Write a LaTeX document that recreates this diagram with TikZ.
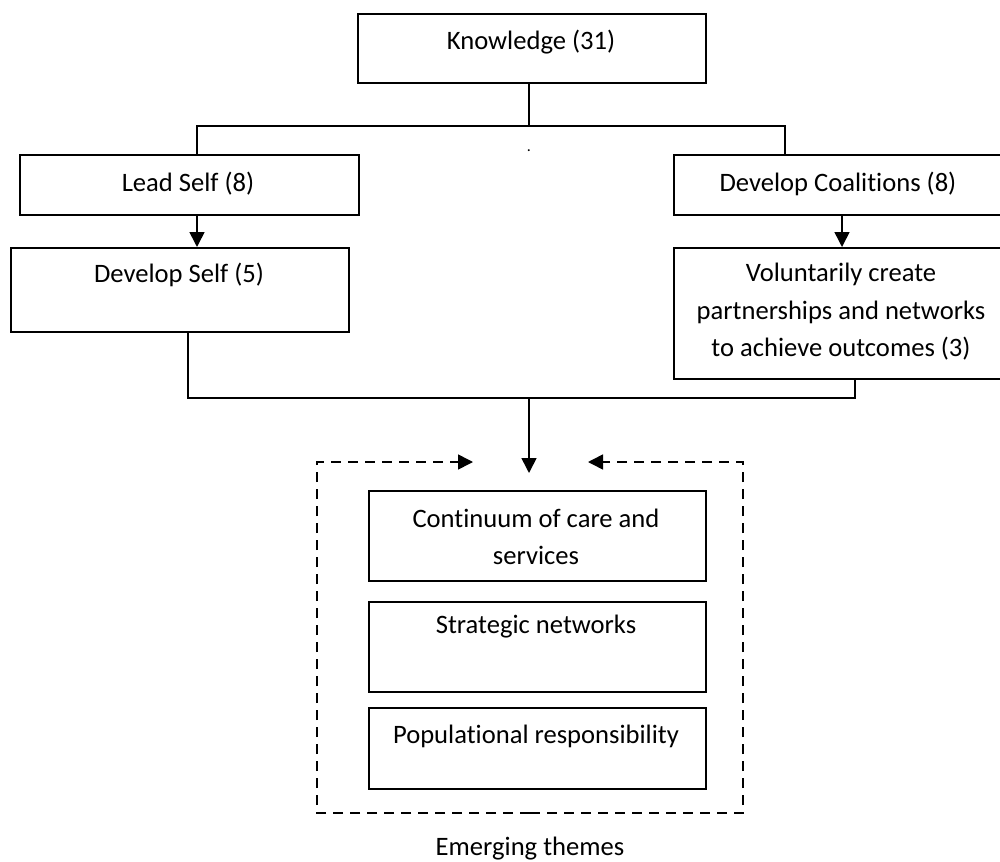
\documentclass[tikz,border=0pt]{standalone}
\usepackage{fontspec}
\setmainfont{Carlito}[Ligatures=NoCommon]
\usetikzlibrary{arrows.meta}
\begin{document}
\begin{tikzpicture}[x=1pt,y=-1pt,
  box/.style={draw, line width=1.6pt, inner sep=0pt, anchor=north west},
  lbl/.style={font=\fontsize{26.6}{37.5}\selectfont, align=center, inner sep=0pt},
  conn/.style={line width=1.6pt},
  arr/.style={line width=1.6pt, -{Triangle[length=15pt,width=15pt]}},
  darr/.style={line width=1.6pt, dash pattern=on 10pt off 7pt, -{Triangle[length=15pt,width=15pt]}}]
\useasboundingbox (0,0) rectangle (1000,861);

% boxes
\node[box, minimum width=348pt, minimum height=69pt] (k) at (357,13) {};
\node[box, minimum width=339pt, minimum height=60pt] (ls) at (19,154) {};
\node[box, minimum width=340pt, minimum height=60pt] (dc) at (673,154) {};
\node[box, minimum width=338pt, minimum height=84pt] (ds) at (10,247) {};
\node[box, minimum width=340pt, minimum height=131pt] (vc) at (673,247) {};
\node[box, minimum width=337pt, minimum height=90pt] (c1) at (368,490) {};
\node[box, minimum width=337pt, minimum height=90pt] (c2) at (368,601) {};
\node[box, minimum width=337pt, minimum height=81pt] (c3) at (368,707) {};

% texts
\node[lbl] (kt) at (531,42) {Knowledge (31)};
\node[lbl] (lst) at (188,184) {Lead Self (8)};
\node[lbl] (dct) at (838,184) {Develop Coalitions (8)};
\node[lbl] (dst) at (179,275) {Develop Self (5)};
\node[lbl] (vct) at (841,312) {Voluntarily create\\partnerships and networks\\to achieve outcomes (3)};
\node[lbl] (c1t) at (536,537) {Continuum of care and\\services};
\node[lbl] (c2t) at (536,627) {Strategic networks};
\node[lbl] (c3t) at (536,736) {Populational responsibility};
\node[lbl] (et) at (530,849) {Emerging themes};
\node[font=\fontsize{16}{18}\selectfont, inner sep=0pt] (dot) at (529,151) {.};

% connector coordinates
\coordinate (tl) at (197,126);
\coordinate (tr) at (785,126);
\coordinate (am) at (529,126);
\coordinate (ar) at (842,0);
\coordinate (bl) at (188,398);
\coordinate (br) at (855,398);
\coordinate (bm) at (529,398);
\coordinate (tgt) at (529,473);
\coordinate (dl) at (317,462);
\coordinate (dr) at (743,462);
\coordinate (dla) at (473,462);
\coordinate (dra) at (588,462);
\coordinate (dbot) at (530,813);

% connectors
\draw[conn] (am |- k.south) -- (am);
\draw[conn] (tl |- ls.north) -- (tl) -- (tr) -- (tr |- dc.north);
\draw[arr] (tl |- ls.south) -- (tl |- ds.north);
\draw[arr] (ar |- dc.south) -- (ar |- vc.north);
\draw[conn] (bl |- ds.south) -- (bl) -- (br) -- (br |- vc.south);
\draw[arr] (bm) -- (tgt);

% dashed frame with arrows
\draw[darr] (dbot) -| (dl) -- (dla);
\draw[darr] (dbot) -| (dr) -- (dra);
\end{tikzpicture}
\end{document}
